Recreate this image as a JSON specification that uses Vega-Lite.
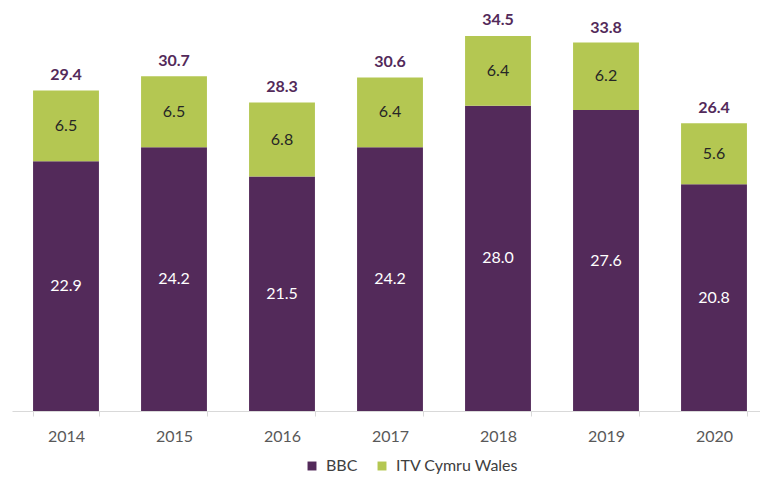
{
  "$schema": "https://vega.github.io/schema/vega-lite/v6.json",
  "width": 748,
  "height": 411,
  "autosize": {"type": "none"},
  "padding": {"left": 12, "top": 0, "right": 0, "bottom": 72},
  "background": "white",
  "config": {"view": {"stroke": null}, "font": "Lato"},
  "datasets": {
    "shares": [
      {"year": "2014", "broadcaster": "BBC", "value": 22.9},
      {"year": "2014", "broadcaster": "ITV Cymru Wales", "value": 6.5},
      {"year": "2015", "broadcaster": "BBC", "value": 24.2},
      {"year": "2015", "broadcaster": "ITV Cymru Wales", "value": 6.5},
      {"year": "2016", "broadcaster": "BBC", "value": 21.5},
      {"year": "2016", "broadcaster": "ITV Cymru Wales", "value": 6.8},
      {"year": "2017", "broadcaster": "BBC", "value": 24.2},
      {"year": "2017", "broadcaster": "ITV Cymru Wales", "value": 6.4},
      {"year": "2018", "broadcaster": "BBC", "value": 28.0},
      {"year": "2018", "broadcaster": "ITV Cymru Wales", "value": 6.4},
      {"year": "2019", "broadcaster": "BBC", "value": 27.6},
      {"year": "2019", "broadcaster": "ITV Cymru Wales", "value": 6.2},
      {"year": "2020", "broadcaster": "BBC", "value": 20.8},
      {"year": "2020", "broadcaster": "ITV Cymru Wales", "value": 5.6}
    ],
    "totals": [
      {"year": "2014", "total": 29.4},
      {"year": "2015", "total": 30.7},
      {"year": "2016", "total": 28.3},
      {"year": "2017", "total": 30.6},
      {"year": "2018", "total": 34.5},
      {"year": "2019", "total": 33.8},
      {"year": "2020", "total": 26.4}
    ]
  },
  "layer": [
    {
      "data": {"name": "shares"},
      "mark": {"type": "bar"},
      "encoding": {
        "x": {
          "field": "year", "type": "nominal",
          "scale": {"range": [0, 756], "paddingInner": 0.39, "paddingOuter": 0.195},
          "axis": {
            "title": null, "labelAngle": 0, "labelFontSize": 16, "labelColor": "#595959",
            "labelPadding": 12, "domainColor": "#d9d9d9", "tickColor": "#d9d9d9",
            "tickBand": "extent", "tickSize": 5
          }
        },
        "y": {
          "field": "value", "type": "quantitative", "stack": "zero",
          "scale": {"domain": [0, 37.7], "nice": false, "zero": true},
          "axis": null
        },
        "color": {
          "field": "broadcaster", "type": "nominal",
          "scale": {"domain": ["BBC", "ITV Cymru Wales"], "range": ["#532a5a", "#b4c752"]},
          "legend": {
            "title": null, "orient": "none", "direction": "horizontal",
            "legendX": 292, "legendY": 458, "symbolType": "square", "symbolSize": 80,
            "symbolStrokeWidth": 0, "labelFontSize": 16, "labelColor": "#404040",
            "labelOffset": 6, "columnPadding": 16
          }
        },
        "order": {"field": "broadcaster", "sort": "ascending"}
      }
    },
    {
      "data": {"name": "shares"},
      "mark": {"type": "text", "fontSize": 16, "baseline": "middle"},
      "encoding": {
        "x": {"field": "year", "type": "nominal"},
        "y": {"field": "value", "type": "quantitative", "stack": "zero", "bandPosition": 0.5},
        "text": {"field": "value", "type": "quantitative", "format": ".1f"},
        "order": {"field": "broadcaster", "sort": "ascending"},
        "color": {
          "condition": {"test": "datum.broadcaster === 'BBC'", "value": "#ffffff"},
          "value": "#262626"
        }
      }
    },
    {
      "data": {"name": "totals"},
      "mark": {"type": "text", "fontSize": 16, "fontWeight": "bold", "baseline": "bottom", "dy": -7, "color": "#532a5a"},
      "encoding": {
        "x": {"field": "year", "type": "nominal"},
        "y": {"field": "total", "type": "quantitative"},
        "text": {"field": "total", "type": "quantitative", "format": ".1f"}
      }
    }
  ]
}
